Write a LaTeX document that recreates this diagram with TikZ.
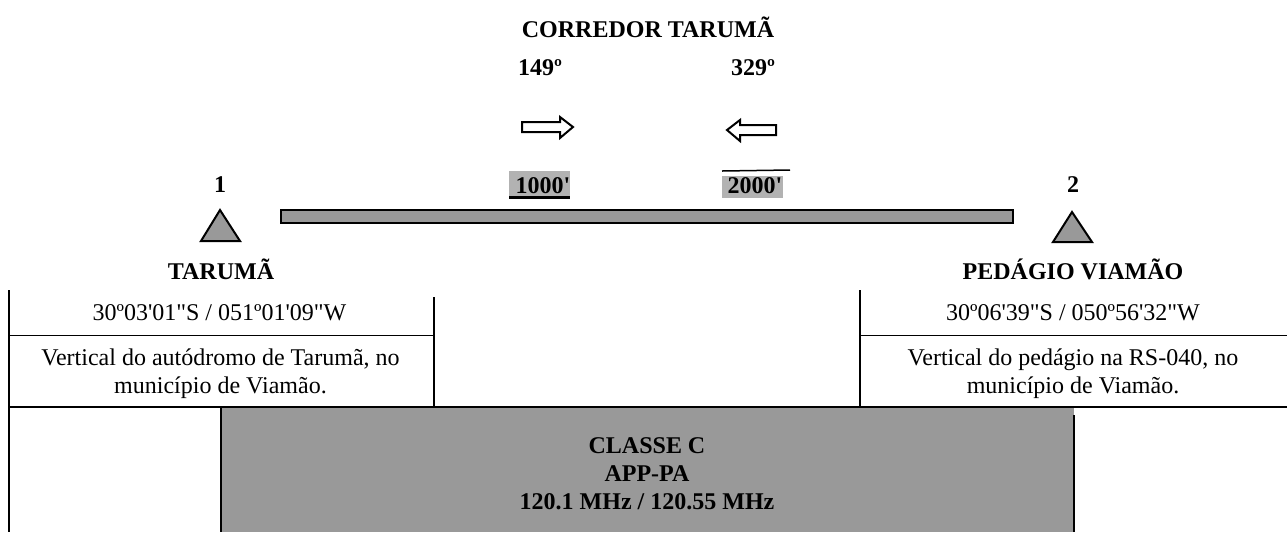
\documentclass[tikz,border=0pt]{standalone}
\usepackage{fontspec}
\setmainfont{Liberation Serif}[Ligatures=TeXOff]
\definecolor{fillgray}{HTML}{999999}
\definecolor{hlgray}{HTML}{B2B2B2}
\tikzset{
  x=0.5pt,y=-0.5pt,
  lab/.style={inner sep=0pt,font=\fontsize{12pt}{14pt}\selectfont\bfseries,align=center},
  txt/.style={inner sep=0pt,font=\fontsize{12pt}{14pt}\selectfont,align=center},
  shape line/.style={draw=black,line width=1pt,fill=fillgray},
  arrow shape/.style={draw=black,line width=1pt,fill=white,line join=miter},
  thin rule/.style={draw=black,line width=0.5pt},
  thick rule/.style={draw=black,line width=1pt},
}
\begin{document}
\begin{tikzpicture}
\useasboundingbox (0,0) rectangle (1287,532);
% bar and triangles
\draw[shape line] (281,209.5) rectangle (1013,223);
\draw[shape line,line join=miter] (220,210) -- (240,241) -- (201,241) -- cycle;
\draw[shape line,line join=miter] (1072,212) -- (1092,242) -- (1053,242) -- cycle;
% arrows
\draw[arrow shape] (522,122) -- (560,122) -- (560,117) -- (573,127) -- (560,138) -- (560,132) -- (522,132) -- cycle;
\draw[arrow shape] (776,125) -- (740,125) -- (740,120) -- (727,130) -- (740,141) -- (740,135) -- (776,135) -- cycle;
% level boxes
\fill[hlgray] (509,171) rectangle (570,198);
\fill[hlgray] (722,176) rectangle (783,198);
\draw[black,line width=1.5pt] (509,197) -- (570,197);
\draw[black,line width=0.75pt] (722,171) -- (790,170);
% table
\fill[fillgray] (221,407) rectangle (1074,532);
\draw[thick rule] (9,290) -- (9,532);
\draw[thick rule] (434,297) -- (434,407);
\draw[thick rule] (860,290) -- (860,407);
\draw[thin rule] (9,335) -- (434,335);
\draw[thin rule] (860,335) -- (1287,335);
\draw[thick rule] (9,407) -- (1287,407);
\draw[thick rule] (221,407) -- (221,532);
\draw[thick rule] (1074,415) -- (1074,532);
% labels
\node[lab] (title) at (648,27) {CORREDOR TARUMÃ};
\node[lab] (hdgA) at (540,68) {149º};
\node[lab] (hdgB) at (753,68) {329º};
\node[lab] (altA) at (543,186) {1000'};
\node[lab] (altB) at (755,186) {2000'};
\node[lab] (numA) at (220,185) {1};
\node[lab] (numB) at (1073,185) {2};
\node[lab] (nameA) at (221,269) {TARUMÃ};
\node[lab] (nameB) at (1073,269) {PEDÁGIO VIAMÃO};
\node[txt] (coordA) at (219.5,313) {30º03'01"S / 051º01'09"W};
\node[txt] (coordB) at (1073,313) {30º06'39"S / 050º56'32"W};
\node[txt] (descA) at (220.5,374) {Vertical do autódromo de Tarumã, no\\município de Viamão.};
\node[txt] (descB) at (1073,374) {Vertical do pedágio na RS-040, no\\município de Viamão.};
\node[lab] (classe) at (647,474) {CLASSE C\\APP-PA\\120.1 MHz / 120.55 MHz};
\end{tikzpicture}
\end{document}
